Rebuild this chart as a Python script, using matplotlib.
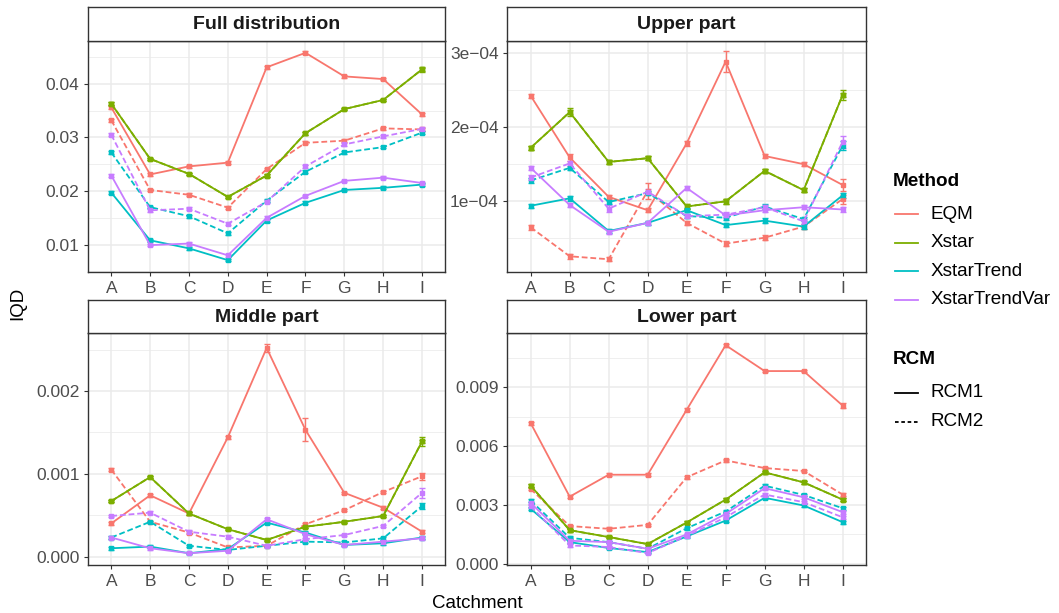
import matplotlib
matplotlib.use('Agg')
import matplotlib.pyplot as plt
from matplotlib.lines import Line2D

plt.rcParams['font.family'] = ['Liberation Sans', 'DejaVu Sans']

catchments = ['A', 'B', 'C', 'D', 'E', 'F', 'G', 'H', 'I']
methods = ['EQM', 'Xstar', 'XstarTrend', 'XstarTrendVar']
rcms = ['RCM1', 'RCM2']
colors = {'EQM': '#F8766D', 'Xstar': '#7CAE00', 'XstarTrend': '#00BFC4', 'XstarTrendVar': '#C77CFF'}

# Full distribution (IQD)
full_eqm_rcm1 = [0.0356, 0.0231, 0.0246, 0.0253, 0.0431, 0.0458, 0.0414, 0.0409, 0.0343]
full_eqm_rcm2 = [0.0332, 0.0202, 0.0193, 0.0169, 0.0241, 0.0290, 0.0294, 0.0317, 0.0315]
full_xstar_rcm1 = [0.0363, 0.0260, 0.0232, 0.0189, 0.0229, 0.0308, 0.0353, 0.0370, 0.0427]
full_xstar_rcm2 = [0.0363, 0.0260, 0.0232, 0.0189, 0.0229, 0.0308, 0.0353, 0.0370, 0.0427]
full_trend_rcm1 = [0.0197, 0.0108, 0.0093, 0.0071, 0.0145, 0.0178, 0.0202, 0.0206, 0.0212]
full_trend_rcm2 = [0.0272, 0.0170, 0.0153, 0.0121, 0.0182, 0.0236, 0.0272, 0.0282, 0.0309]
full_var_rcm1 = [0.0229, 0.0099, 0.0102, 0.0080, 0.0150, 0.0191, 0.0219, 0.0225, 0.0215]
full_var_rcm2 = [0.0305, 0.0164, 0.0167, 0.0139, 0.0180, 0.0246, 0.0287, 0.0302, 0.0316]

# Upper part (units of 1e-4)
upper_eqm_rcm1 = [2.42, 1.59, 1.06, 0.88, 1.78, 2.88, 1.61, 1.50, 1.22]
upper_eqm_rcm2 = [0.65, 0.26, 0.22, 1.14, 0.71, 0.43, 0.51, 0.66, 1.03]
upper_xstar_rcm1 = [1.72, 2.20, 1.53, 1.58, 0.93, 1.00, 1.41, 1.15, 2.43]
upper_xstar_rcm2 = [1.72, 2.20, 1.53, 1.58, 0.93, 1.00, 1.41, 1.15, 2.43]
upper_trend_rcm1 = [0.94, 1.04, 0.60, 0.71, 0.88, 0.68, 0.74, 0.66, 1.08]
upper_trend_rcm2 = [1.28, 1.45, 0.99, 1.11, 0.80, 0.78, 0.93, 0.76, 1.75]
upper_var_rcm1 = [1.45, 0.95, 0.59, 0.71, 1.18, 0.81, 0.88, 0.92, 0.89]
upper_var_rcm2 = [1.32, 1.51, 0.90, 1.13, 0.80, 0.82, 0.92, 0.73, 1.80]

# Middle part (units of 1e-3)
middle_eqm_rcm1 = [0.40, 0.74, 0.52, 1.44, 2.52, 1.53, 0.77, 0.59, 0.30]
middle_eqm_rcm2 = [1.05, 0.42, 0.29, 0.11, 0.13, 0.39, 0.56, 0.78, 0.97]
middle_xstar_rcm1 = [0.67, 0.96, 0.52, 0.33, 0.20, 0.36, 0.42, 0.49, 1.39]
middle_xstar_rcm2 = [0.67, 0.96, 0.52, 0.33, 0.20, 0.36, 0.42, 0.49, 1.39]
middle_trend_rcm1 = [0.10, 0.12, 0.04, 0.09, 0.41, 0.29, 0.14, 0.16, 0.23]
middle_trend_rcm2 = [0.23, 0.42, 0.13, 0.08, 0.13, 0.18, 0.17, 0.22, 0.61]
middle_var_rcm1 = [0.23, 0.10, 0.04, 0.07, 0.45, 0.27, 0.14, 0.18, 0.22]
middle_var_rcm2 = [0.49, 0.53, 0.30, 0.24, 0.13, 0.21, 0.26, 0.37, 0.77]

# Lower part (units of 1e-3)
lower_eqm_rcm1 = [7.17, 3.42, 4.54, 4.54, 7.85, 11.15, 9.83, 9.83, 8.07]
lower_eqm_rcm2 = [3.81, 1.92, 1.78, 1.98, 4.41, 5.27, 4.88, 4.73, 3.53]
lower_xstar_rcm1 = [3.98, 1.71, 1.36, 1.00, 2.10, 3.27, 4.66, 4.15, 3.27]
lower_xstar_rcm2 = [3.98, 1.71, 1.36, 1.00, 2.10, 3.27, 4.66, 4.15, 3.27]
lower_trend_rcm1 = [2.80, 1.10, 0.80, 0.59, 1.39, 2.20, 3.36, 2.97, 2.12]
lower_trend_rcm2 = [3.22, 1.32, 1.10, 0.76, 1.81, 2.66, 3.98, 3.51, 2.83]
lower_var_rcm1 = [3.10, 1.17, 1.10, 0.76, 1.49, 2.54, 3.85, 3.39, 2.63]
lower_var_rcm2 = [2.92, 0.93, 0.85, 0.54, 1.41, 2.37, 3.53, 3.14, 2.37]

panel_names = ['Full distribution', 'Upper part', 'Middle part', 'Lower part']
panel_units = [1.0, 1e-4, 1e-3, 1e-3]
# default half-width of the error bars (panel units) and the visibly larger ones
err_default = [0.00025, 0.03, 0.015, 0.07]
err_big = {
    ('Full distribution', 'Xstar', 'RCM1', 'I'): 0.0005,
    ('Full distribution', 'XstarTrendVar', 'RCM2', 'I'): 0.0004,
    ('Full distribution', 'EQM', 'RCM1', 'F'): 0.0003,
    ('Upper part', 'EQM', 'RCM1', 'F'): 0.14,
    ('Upper part', 'EQM', 'RCM2', 'D'): 0.11,
    ('Upper part', 'EQM', 'RCM1', 'I'): 0.08,
    ('Upper part', 'EQM', 'RCM1', 'B'): 0.05,
    ('Upper part', 'EQM', 'RCM2', 'I'): 0.06,
    ('Upper part', 'Xstar', 'RCM1', 'I'): 0.07,
    ('Upper part', 'Xstar', 'RCM1', 'B'): 0.05,
    ('Upper part', 'XstarTrend', 'RCM2', 'I'): 0.06,
    ('Upper part', 'XstarTrendVar', 'RCM2', 'I'): 0.08,
    ('Upper part', 'XstarTrendVar', 'RCM2', 'C'): 0.05,
    ('Middle part', 'EQM', 'RCM1', 'F'): 0.14,
    ('Middle part', 'EQM', 'RCM1', 'E'): 0.05,
    ('Middle part', 'Xstar', 'RCM1', 'I'): 0.06,
    ('Middle part', 'XstarTrendVar', 'RCM2', 'I'): 0.06,
    ('Middle part', 'XstarTrend', 'RCM2', 'I'): 0.04,
    ('Middle part', 'EQM', 'RCM2', 'I'): 0.04,
    ('Lower part', 'EQM', 'RCM1', 'I'): 0.12,
}

series = {
    'Full distribution': [full_eqm_rcm1, full_eqm_rcm2, full_xstar_rcm2, full_xstar_rcm1,
                          full_trend_rcm1, full_trend_rcm2, full_var_rcm1, full_var_rcm2],
    'Upper part': [upper_eqm_rcm1, upper_eqm_rcm2, upper_xstar_rcm2, upper_xstar_rcm1,
                   upper_trend_rcm1, upper_trend_rcm2, upper_var_rcm1, upper_var_rcm2],
    'Middle part': [middle_eqm_rcm1, middle_eqm_rcm2, middle_xstar_rcm2, middle_xstar_rcm1,
                    middle_trend_rcm1, middle_trend_rcm2, middle_var_rcm1, middle_var_rcm2],
    'Lower part': [lower_eqm_rcm1, lower_eqm_rcm2, lower_xstar_rcm2, lower_xstar_rcm1,
                   lower_trend_rcm1, lower_trend_rcm2, lower_var_rcm1, lower_var_rcm2],
}
series_keys = [('EQM', 'RCM1'), ('EQM', 'RCM2'), ('Xstar', 'RCM2'), ('Xstar', 'RCM1'),
               ('XstarTrend', 'RCM1'), ('XstarTrend', 'RCM2'),
               ('XstarTrendVar', 'RCM1'), ('XstarTrendVar', 'RCM2')]

y_ticks = [[0.01, 0.02, 0.03, 0.04], [1e-4, 2e-4, 3e-4], [0.0, 0.001, 0.002], [0.0, 0.003, 0.006, 0.009]]
y_ticklabels = [['0.01', '0.02', '0.03', '0.04'], ['1e\u221204', '2e\u221204', '3e\u221204'],
                ['0.000', '0.001', '0.002'], ['0.000', '0.003', '0.006', '0.009']]
y_minor = [[0.005, 0.015, 0.025, 0.035, 0.045], [0.5e-4, 1.5e-4, 2.5e-4],
           [0.0005, 0.0015, 0.0025], [0.0015, 0.0045, 0.0075, 0.0105]]

W, H = 1059, 613
# panel boxes in pixels: x0, y0 (top), x1, y1 (bottom)
boxes = [(88, 40.7, 445.3, 272), (507.3, 40.7, 866, 272),
         (88, 333.3, 445.3, 565), (507.3, 333.3, 866, 565)]
strip_h = 33.3


def rect(x0, y0, x1, y1):
    return [x0 / W, 1 - y1 / H, (x1 - x0) / W, (y1 - y0) / H]


fig = plt.figure(figsize=(W / 100, H / 100), dpi=100)
grey20 = '#333333'
x = list(range(1, len(catchments) + 1))

for p, name in enumerate(panel_names):
    x0, y0, x1, y1 = boxes[p]
    ax = fig.add_axes(rect(x0, y0, x1, y1))
    unit = panel_units[p]
    lo, hi = None, None
    for (m, r), vals in zip(series_keys, series[name]):
        v = [a * unit for a in vals]
        e = [err_big.get((name, m, r, c), err_default[p]) * unit for c in catchments]
        ls = '-' if r == 'RCM1' else (0, (3.2, 1.6))
        ax.errorbar(x, v, yerr=e, color=colors[m], lw=1.3, ls=ls, marker='s', ms=2.3,
                    elinewidth=1.0, capsize=2.2, capthick=1.0)
        lo = min([a - b for a, b in zip(v, e)] + ([lo] if lo is not None else []))
        hi = max([a + b for a, b in zip(v, e)] + ([hi] if hi is not None else []))
    pad = (hi - lo) * 0.05
    ax.set_ylim(lo - pad, hi + pad)
    ax.set_xlim(0.4, len(catchments) + 0.6)
    ax.set_xticks(x)
    ax.set_xticklabels(catchments)
    ax.set_yticks(y_ticks[p])
    ax.set_yticklabels(y_ticklabels[p])
    ax.set_yticks([t for t in y_minor[p] if lo - pad < t < hi + pad], minor=True)
    ax.grid(which='major', color='#EBEBEB', lw=1.1)
    ax.grid(which='minor', axis='y', color='#EBEBEB', lw=0.55)
    ax.set_axisbelow(True)
    ax.tick_params(which='major', length=3, width=0.8, color=grey20, labelsize=12.5,
                   labelcolor='#4D4D4D', pad=3.2)
    ax.tick_params(which='minor', length=0)
    for s in ax.spines.values():
        s.set_color(grey20)
        s.set_linewidth(1.0)

    sax = fig.add_axes(rect(x0, y0 - strip_h, x1, y0))
    sax.set_xticks([])
    sax.set_yticks([])
    sax.set_facecolor('white')
    for s in sax.spines.values():
        s.set_color(grey20)
        s.set_linewidth(1.0)
    sax.text(0.5, 0.48, name, ha='center', va='center', fontsize=14, fontweight='bold',
             color='#1A1A1A', transform=sax.transAxes)

fig.text(18 / W, 1 - 303 / H, 'IQD', rotation=90, ha='center', va='center', fontsize=13.5)
fig.text(477 / W, 1 - 603 / H, 'Catchment', ha='center', va='center', fontsize=13.5)

# legends
def key_line(y, color, ls):
    fig.add_artist(Line2D([895 / W, 918.3 / W], [1 - y / H] * 2, color=color, lw=1.3, ls=ls,
                          transform=fig.transFigure))

fig.text(893 / W, 1 - 181 / H, 'Method', ha='left', va='center', fontsize=13.6, fontweight='bold')
for i, m in enumerate(methods):
    yy = 214.3 + i * 28.4
    key_line(yy, colors[m], '-')
    fig.text(931 / W, 1 - yy / H, m, ha='left', va='center', fontsize=13.6)

fig.text(893 / W, 1 - 360 / H, 'RCM', ha='left', va='center', fontsize=13.6, fontweight='bold')
for i, r in enumerate(rcms):
    yy = 392.7 + i * 29
    key_line(yy, 'black', '-' if r == 'RCM1' else (0, (2, 1.5)))
    fig.text(931 / W, 1 - yy / H, r, ha='left', va='center', fontsize=13.6)

fig.savefig('out.png', dpi=100)
